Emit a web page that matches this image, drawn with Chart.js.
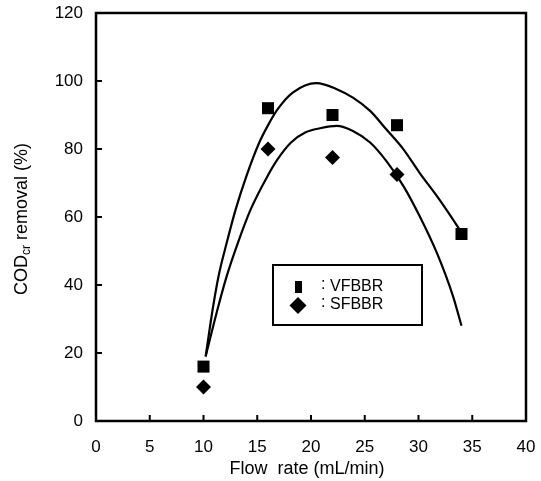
<!DOCTYPE html>
<html>
<head>
<meta charset="utf-8">
<script src="https://cdn.jsdelivr.net/npm/chart.js@4.4.0/dist/chart.umd.min.js"></script>
<style>
  html, body { margin:0; padding:0; background:#fff }
  #wrap { width:541px; height:481px }
</style>
</head>
<body>
<div id="wrap"><canvas id="chart" width="541" height="481"></canvas></div>
<script>
// measured points
const vfbbrX = [10, 16, 22, 28, 34]
const vfbbrY = [16, 92, 90, 87, 55]
const sfbbrX = [10, 16, 22, 28]
const sfbbrY = [10, 80, 77.5, 72.5]

// fitted curves
const vfbbrFitX = [10.2, 10.85, 11.4, 12.16, 13.0, 14.0, 15.19, 15.97, 16.9, 18.3, 20.5, 22.4, 23.9, 25.5, 27.0, 28.6, 30.1, 31.7, 33.2, 34.0]
const vfbbrFitY = [19, 32.8, 42.6, 52.4, 62.3, 72.1, 81.9, 86.8, 91.7, 96.6, 99.4, 97.6, 95.1, 91.2, 85.8, 79.9, 73.0, 66.2, 59.3, 55.4]
const sfbbrFitX = [10.2, 11.3, 12.16, 13.2, 14.4, 15.97, 16.9, 18.14, 19.5, 20.84, 22.4, 23.9, 25.5, 27.0, 28.6, 30.1, 31.7, 33.2, 34.0]
const sfbbrFitY = [19, 32.8, 42.6, 52.4, 62.3, 72.1, 77, 81.9, 84.9, 86.1, 86.8, 85.3, 81.9, 76.5, 69.1, 60.3, 49.5, 36.8, 28]

const xTicks = [0, 5, 10, 15, 20, 25, 30, 35, 40]
const yTicks = [0, 20, 40, 60, 80, 100, 120]

const FONT = '"Liberation Sans", Arial, Helvetica, sans-serif'
const pts = (xs, ys) => xs.map((x, i) => ({ x, y: ys[i] }))

// frame, inward ticks, axis titles, legend box
const decorations = {
  id: 'decorations',
  afterDraw(chart){
    const { ctx, chartArea: a, scales: { x, y } } = chart
    ctx.save()
    ctx.strokeStyle = '#000'
    ctx.lineWidth = 2.5
    ctx.strokeRect(a.left, a.top, a.right - a.left, a.bottom - a.top)

    ctx.lineWidth = 2
    ctx.beginPath()
    xTicks.slice(1, -1).forEach(v => {
      const px = x.getPixelForValue(v)
      ctx.moveTo(px, a.bottom); ctx.lineTo(px, a.bottom - 6)
    })
    yTicks.slice(1, -1).forEach(v => {
      const py = y.getPixelForValue(v)
      ctx.moveTo(a.left, py); ctx.lineTo(a.left + 6, py)
    })
    ctx.stroke()

    ctx.fillStyle = '#000'
    // x title
    ctx.font = '18px ' + FONT
    ctx.textAlign = 'center'
    ctx.textBaseline = 'middle'
    ctx.fillText('Flow  rate (mL/min)', (a.left + a.right) / 2 - 4, 469)

    // y title with subscript
    ctx.save()
    ctx.translate(22, 219)
    ctx.rotate(-Math.PI / 2)
    ctx.textAlign = 'left'
    const big = '18px ' + FONT, small = '12px ' + FONT
    ctx.font = big; const w1 = ctx.measureText('COD').width
    ctx.font = small; const w2 = ctx.measureText('cr').width
    ctx.font = big; const w3 = ctx.measureText(' removal (%)').width
    let cx = -(w1 + w2 + w3) / 2
    ctx.font = big; ctx.fillText('COD', cx, 0); cx += w1
    ctx.font = small; ctx.fillText('cr', cx, 5); cx += w2
    ctx.font = big; ctx.fillText(' removal (%)', cx, 0)
    ctx.restore()

    // legend
    ctx.lineWidth = 2
    ctx.strokeRect(273, 265, 149, 60)
    ctx.fillRect(295, 281, 7, 12)
    ctx.beginPath()
    ctx.moveTo(298, 297); ctx.lineTo(306.5, 305.5); ctx.lineTo(298, 314); ctx.lineTo(289.5, 305.5)
    ctx.closePath(); ctx.fill()
    ctx.font = '16px ' + FONT
    ctx.textAlign = 'left'
    ctx.fillText(':', 321, 285)
    ctx.fillText('VFBBR', 330, 287)
    ctx.fillText(':', 321, 303)
    ctx.fillText('SFBBR', 330, 305)
    ctx.restore()
  }
}

new Chart(document.getElementById('chart'), {
  type: 'scatter',
  data: {
    datasets: [
      { label: 'VFBBR', data: pts(vfbbrX, vfbbrY), pointStyle: 'rect', pointRadius: 8.5,
        backgroundColor: '#000', borderColor: '#000', borderWidth: 0, showLine: false },
      { label: 'SFBBR', data: pts(sfbbrX, sfbbrY), pointStyle: 'rectRot', pointRadius: 7.5,
        backgroundColor: '#000', borderColor: '#000', borderWidth: 0, showLine: false },
      { label: 'VFBBR fit', data: pts(vfbbrFitX, vfbbrFitY), showLine: true, pointRadius: 0,
        borderColor: '#000', borderWidth: 2.2, cubicInterpolationMode: 'monotone' },
      { label: 'SFBBR fit', data: pts(sfbbrFitX, sfbbrFitY), showLine: true, pointRadius: 0,
        borderColor: '#000', borderWidth: 2.2, cubicInterpolationMode: 'monotone' }
    ]
  },
  options: {
    responsive: false,
    animation: false,
    layout: { padding: { top: 13, right: 15, left: 0, bottom: 0 } },
    plugins: { legend: { display: false }, tooltip: { enabled: false } },
    scales: {
      x: {
        type: 'linear', min: 0, max: 40,
        afterFit: s => { s.height = 60; s.paddingLeft = 0; s.paddingRight = 0 },
        afterBuildTicks: s => { s.ticks = xTicks.map(v => ({ value: v })) },
        grid: { display: false, drawTicks: false },
        border: { display: false },
        ticks: { padding: 16, color: '#000', font: { size: 17, family: FONT } }
      },
      y: {
        type: 'linear', min: 0, max: 120,
        afterFit: s => { s.width = 96; s.paddingTop = 0; s.paddingBottom = 0 },
        afterBuildTicks: s => { s.ticks = yTicks.map(v => ({ value: v })) },
        grid: { display: false, drawTicks: false },
        border: { display: false },
        ticks: { padding: 13, color: '#000', font: { size: 17, family: FONT } }
      }
    }
  },
  plugins: [decorations]
})
</script>
</body>
</html>
